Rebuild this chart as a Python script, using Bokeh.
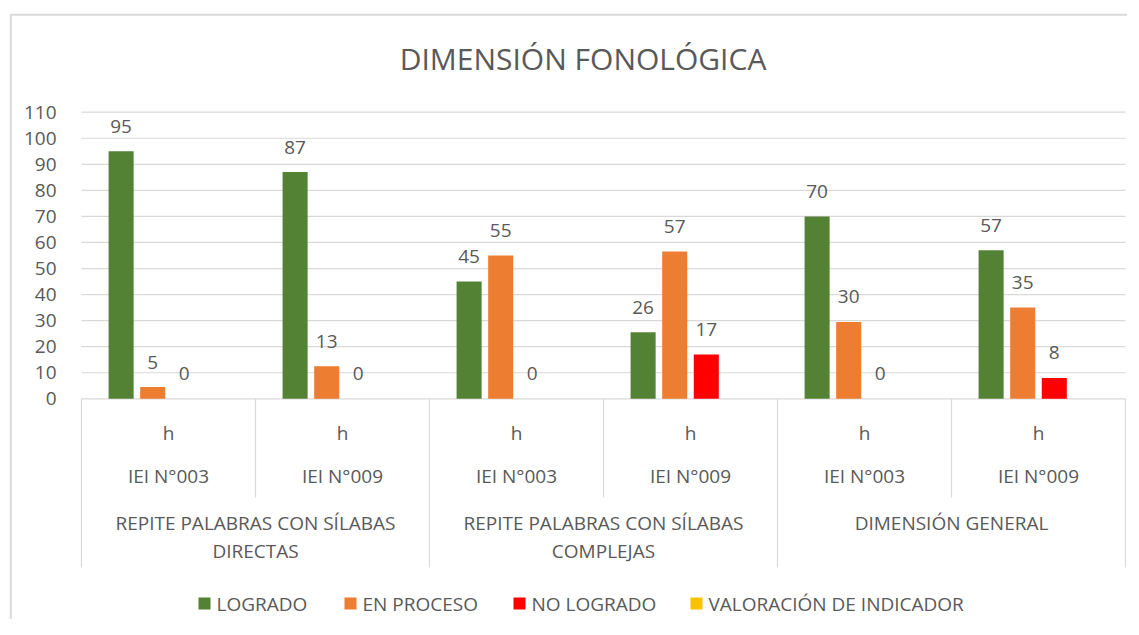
from bokeh.plotting import figure
from bokeh.models import Range1d, LinearAxis, FixedTicker
from bokeh.core.properties import value
from bokeh.embed import file_html
from bokeh.resources import INLINE

# ---------------- data ----------------
title = "DIMENSIÓN FONOLÓGICA"
group_lines = [["REPITE PALABRAS CON SÍLABAS", "DIRECTAS"],
               ["REPITE PALABRAS CON SÍLABAS", "COMPLEJAS"],
               ["DIMENSIÓN GENERAL"]]
schools = ["IEI N°003", "IEI N°009", "IEI N°003", "IEI N°009", "IEI N°003", "IEI N°009"]
sub_labels = ["h", "h", "h", "h", "h", "h"]
series = ["LOGRADO", "EN PROCESO", "NO LOGRADO", "VALORACIÓN DE INDICADOR"]
colors = ["#548235", "#ED7D31", "#FF0000", "#FFC000"]
logrado = [95, 87, 45, 25.5, 70, 57]
en_proceso = [4.5, 12.5, 55, 56.5, 29.5, 35]
no_logrado = [0, 0, 0, 17, 0, 8]
valoracion = [None, None, None, None, None, None]
y_ticks = [0, 10, 20, 30, 40, 50, 60, 70, 80, 90, 100, 110]

all_series = [logrado, en_proceso, no_logrado, valoracion]
labelled = [True, True, True, False]

# ---------------- geometry ----------------
W, H = 1127, 619
PX0, UX = 81.0, 174.0        # canvas x of category origin, px per category
PY0, UY = 398.3, 2.6055      # canvas y of value 0, px per unit
N = len(schools)


def dx(px):
    return (px - PX0) / UX


def dy(py):
    return (PY0 - py) / UY


STEP = 0.1816
BAR_W = 0.144
TXT = "#595959"
LINE = "#d9d9d9"
FONT = value("Open Sans")

p = figure(width=W, height=H, output_backend="svg", toolbar_location=None,
           x_axis_type=None, y_axis_type=None, min_border=0,
           x_range=Range1d(-PX0 / UX, (W - PX0) / UX),
           y_range=Range1d(-(H - PY0) / UY, PY0 / UY),
           outline_line_color=None, background_fill_color="white",
           border_fill_color="white")
p.xgrid.visible = False
p.ygrid.visible = False

# chart border (left/top)
p.line(x=[dx(10.3), dx(10.3), dx(1150)], y=[dy(650), dy(14.3), dy(14.3)],
       line_color=LINE, line_width=2)

# gridlines
p.segment(x0=[0] * len(y_ticks), x1=[N] * len(y_ticks), y0=y_ticks, y1=y_ticks,
          line_color=LINE, line_width=1.2)

# y axis
yaxis = LinearAxis(fixed_location=0, ticker=FixedTicker(ticks=y_ticks),
                   axis_line_color=None, major_tick_line_color=None,
                   minor_tick_line_color=None, major_label_standoff=19,
                   major_label_text_font="Open Sans",
                   major_label_text_font_size="19px",
                   major_label_text_color=TXT)
p.add_layout(yaxis, "left")

# bars + labels
for s, vals in enumerate(all_series):
    xs = [i + 0.5 + (s - 1.5) * STEP for i in range(N)]
    tops = [float("nan") if v is None else v for v in vals]
    p.vbar(x=xs, top=tops, bottom=0, width=BAR_W, fill_color=colors[s], line_color=None)
    if labelled[s]:
        p.text(x=xs, y=tops, text=[str(int(v + 0.5)) for v in tops],
               y_offset=-25, text_align="center", text_baseline="middle",
               text_font=FONT, text_font_size="19px", text_color=TXT)

# category axis lines
long_x = list(range(0, N + 1, 2))
short_x = list(range(1, N, 2))
p.segment(x0=long_x, x1=long_x, y0=[0] * len(long_x), y1=[dy(567)] * len(long_x),
          line_color=LINE, line_width=1.2)
p.segment(x0=short_x, x1=short_x, y0=[0] * len(short_x), y1=[dy(497)] * len(short_x),
          line_color=LINE, line_width=1.2)

centers = [i + 0.5 for i in range(N)]
p.text(x=centers, y=[dy(432)] * N, text=sub_labels, text_align="center",
       text_baseline="middle", text_font=FONT, text_font_size="19px", text_color=TXT)
p.text(x=centers, y=[dy(475)] * N, text=schools, text_align="center",
       text_baseline="middle", text_font=FONT, text_font_size="19px", text_color=TXT)

gx, gy, gt = [], [], []
for g, lines in enumerate(group_lines):
    for k, line in enumerate(lines):
        gx.append(2 * g + 1)
        gy.append(dy(522 + 28 * k))
        gt.append(line)
p.text(x=gx, y=gy, text=gt, text_align="center", text_baseline="middle",
       text_font=FONT, text_font_size="19px", text_color=TXT)

# title
p.text(x=[dx(582.5)], y=[dy(58)], text=[title], text_align="center",
       text_baseline="middle", text_font=FONT, text_font_size="30px", text_color=TXT)

# legend (manual)
key_left = [198, 344, 513, 690]
p.scatter(x=[dx(k + 6) for k in key_left], y=[dy(603)] * 4, marker="square", size=12,
          fill_color=colors, line_color=None)
p.text(x=[dx(k + 18) for k in key_left], y=[dy(603)] * 4, text=series,
       text_align="left", text_baseline="middle", text_font=FONT,
       text_font_size="19px", text_color=TXT)

open("out.html", "w").write(file_html(p, INLINE))
